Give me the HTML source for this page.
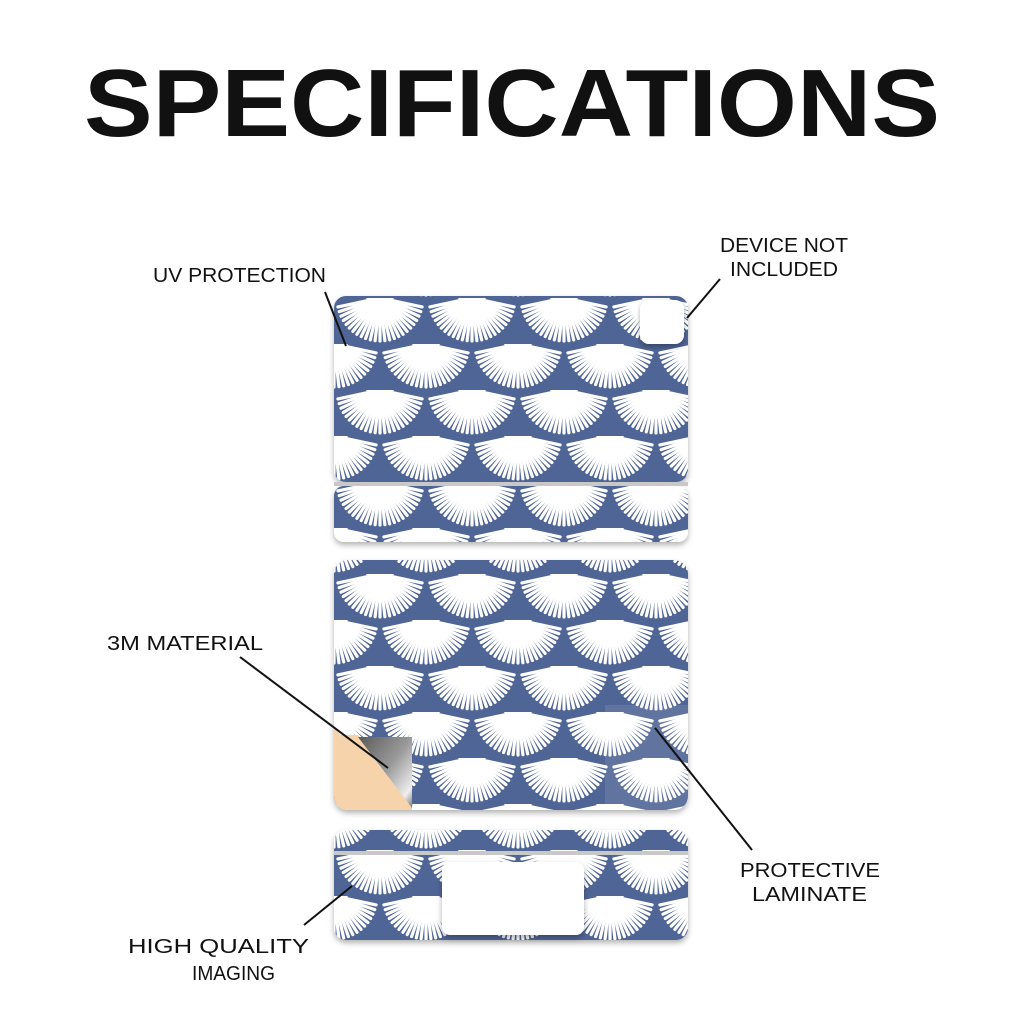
<!DOCTYPE html>
<html><head><meta charset="utf-8"><style>
html,body{margin:0;padding:0;background:#fff;width:1024px;height:1024px;overflow:hidden}
text{font-family:"Liberation Sans",sans-serif;fill:#111}
</style></head><body>
<svg width="1024" height="1024" viewBox="0 0 1024 1024" xmlns="http://www.w3.org/2000/svg">
<defs>
<pattern id="p" patternUnits="userSpaceOnUse" width="92" height="92" x="334" y="296">
<rect width="92" height="92" fill="#4f6595"/>
<g id="fans"></g>
</pattern>
<filter id="sh" x="-5%" y="-5%" width="110%" height="120%"><feDropShadow dx="0" dy="3" stdDeviation="3" flood-color="#000" flood-opacity="0.3"/></filter>
<linearGradient id="curl" x1="0" y1="0" x2="1" y2="1">
<stop offset="0" stop-color="#5a5a5a"/><stop offset="0.5" stop-color="#9a9a9a"/><stop offset="0.85" stop-color="#eeeeee"/><stop offset="1" stop-color="#777"/></linearGradient>
<clipPath id="c2"><rect x="334" y="560" width="354" height="250" rx="14"/></clipPath>
</defs>
<text x="512" y="136" font-size="96" font-weight="bold" text-anchor="middle" textLength="856" lengthAdjust="spacingAndGlyphs">SPECIFICATIONS</text>

<g filter="url(#sh)">
<rect x="334" y="296" width="354" height="186" rx="12" fill="url(#p)"/>
<rect x="334" y="486" width="354" height="56" rx="10" fill="url(#p)"/>
<rect x="334" y="560" width="354" height="250" rx="14" fill="url(#p)"/>
<rect x="334" y="830" width="354" height="110" rx="12" fill="url(#p)"/>
</g>
<rect x="334" y="482" width="354" height="4" fill="#c8c8c8"/>
<rect x="640" y="300" width="44" height="44" rx="9" fill="#fff" filter="url(#sh)"/>
<rect x="334" y="851" width="354" height="4" fill="#c8c8c8"/>
<rect x="442" y="862" width="142" height="73" rx="8" fill="#fff" filter="url(#sh)"/>
<g clip-path="url(#c2)">
<polygon points="334,728 412,810 334,810" fill="#f6d3aa"/>
<polygon points="334,735 358,735 412,800 412,810" fill="#f6d3aa"/>
<polygon points="358,737 412,737 412,808" fill="url(#curl)"/>
<rect x="605" y="705" width="85" height="105" fill="#fff" opacity="0.1"/>
</g>

<g stroke="#111" stroke-width="2" fill="none">
<line x1="325" y1="292" x2="346" y2="346"/>
<line x1="720" y1="279" x2="687" y2="318"/>
<line x1="240" y1="657" x2="388" y2="768"/>
<line x1="752" y1="850" x2="655" y2="728"/>
<line x1="304" y1="925" x2="352" y2="886"/>
</g>
<g font-size="20">
<text x="153" y="282" textLength="173" lengthAdjust="spacingAndGlyphs">UV PROTECTION</text>
<text x="720" y="252" textLength="128" lengthAdjust="spacingAndGlyphs">DEVICE NOT</text>
<text x="730" y="276" textLength="108" lengthAdjust="spacingAndGlyphs">INCLUDED</text>
<text x="107" y="650" textLength="156" lengthAdjust="spacingAndGlyphs">3M MATERIAL</text>
<text x="740" y="877" textLength="140" lengthAdjust="spacingAndGlyphs">PROTECTIVE</text>
<text x="752" y="901" textLength="115" lengthAdjust="spacingAndGlyphs">LAMINATE</text>
<text x="128" y="953" textLength="181" lengthAdjust="spacingAndGlyphs">HIGH QUALITY</text>
<text x="192" y="980" textLength="83" lengthAdjust="spacingAndGlyphs">IMAGING</text>
</g>
</svg>
<script>
(function(){
var g=document.getElementById('fans'),s='';
var centers=[[46,2],[0,48],[92,48],[46,94],[0,-44],[92,-44]];
centers.forEach(function(c){
 for(var a=12;a<=168;a+=6.5){
  var r=a*Math.PI/180,x1=c[0]+Math.cos(r)*12,y1=c[1]+Math.sin(r)*12,x2=c[0]+Math.cos(r)*43,y2=c[1]+Math.sin(r)*43;
  s+='<line x1="'+x1.toFixed(1)+'" y1="'+y1.toFixed(1)+'" x2="'+x2.toFixed(1)+'" y2="'+y2.toFixed(1)+'" stroke="#fff" stroke-width="3.2" stroke-linecap="round"/>';
 }
 s+='<path d="M'+(c[0]-14)+' '+c[1]+' L'+c[0]+' '+(c[1]+24)+' L'+(c[0]+14)+' '+c[1]+'Z" fill="#fff"/>';
});
g.innerHTML=s;
})();
</script>
</body></html>
